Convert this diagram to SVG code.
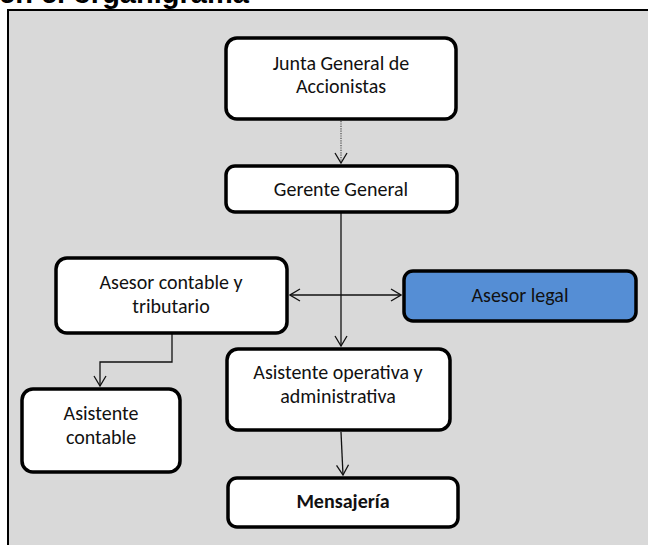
<svg xmlns="http://www.w3.org/2000/svg" width="648" height="545" viewBox="0 0 648 545">
  <style>
    .box { fill: #ffffff; stroke: #000000; stroke-width: 3.5; }
    .blue { fill: #558ed5; }
    .lbl { font-family: Carlito, Lato, "Liberation Sans", sans-serif; font-size: 20px; fill: #111111; text-anchor: middle; }
    .bold { font-weight: bold; }
    .conn { fill: none; stroke: #111111; stroke-width: 1.3; }
    .dot { stroke: #555555; stroke-dasharray: 1.2 1.2; }
    .title { font-family: "Liberation Sans", Arial, sans-serif; font-weight: bold; font-size: 29px; fill: #000000; }
  </style>
  <defs>
    <marker id="vhead" viewBox="0 0 12 14" refX="11" refY="7" markerWidth="12" markerHeight="14" markerUnits="userSpaceOnUse" orient="auto-start-reverse">
      <path d="M1 1 L11 7 L1 13" fill="none" stroke="#111111" stroke-width="1.3"/>
    </marker>
  </defs>

  <!-- page heading, clipped by the top edge -->
  <text class="title" x="-1" y="3">en el organigrama</text>

  <!-- chart panel -->
  <rect x="8" y="10" width="660" height="560" fill="#d9d9d9" stroke="#000000" stroke-width="2"/>

  <g id="connectors">
    <line class="conn dot" x1="341" y1="121" x2="341" y2="163" marker-end="url(#vhead)"/>
    <line class="conn" x1="341" y1="213" x2="341" y2="346" marker-end="url(#vhead)"/>
    <line class="conn" x1="290" y1="295" x2="401" y2="295" marker-start="url(#vhead)" marker-end="url(#vhead)"/>
    <polyline class="conn" points="172,334 172,362 100,362 100,386" marker-end="url(#vhead)"/>
    <line class="conn" x1="341" y1="432" x2="343" y2="475" marker-end="url(#vhead)"/>
  </g>

  <g id="junta">
    <rect class="box" x="226" y="38" width="230" height="81" rx="11"/>
    <text class="lbl" x="341" y="70">Junta General de</text>
    <text class="lbl" x="341" y="93">Accionistas</text>
  </g>

  <g id="gerente">
    <rect class="box" x="226" y="166" width="231" height="46" rx="9"/>
    <text class="lbl" x="341" y="196">Gerente General</text>
  </g>

  <g id="asesor-contable">
    <rect class="box" x="56" y="258" width="231" height="75" rx="11"/>
    <text class="lbl" x="171" y="289">Asesor contable y</text>
    <text class="lbl" x="171" y="313">tributario</text>
  </g>

  <g id="asesor-legal">
    <rect class="box blue" x="404" y="271" width="232" height="50" rx="9"/>
    <text class="lbl" x="520" y="302">Asesor legal</text>
  </g>

  <g id="asistente-contable">
    <rect class="box" x="22" y="389" width="158" height="83" rx="11"/>
    <text class="lbl" x="101" y="420">Asistente</text>
    <text class="lbl" x="101" y="444">contable</text>
  </g>

  <g id="asistente-operativa">
    <rect class="box" x="227" y="349" width="223" height="81" rx="11"/>
    <text class="lbl" x="338" y="379">Asistente operativa y</text>
    <text class="lbl" x="338" y="403">administrativa</text>
  </g>

  <g id="mensajeria">
    <rect class="box" x="228" y="478" width="230" height="49" rx="9"/>
    <text class="lbl bold" x="343" y="508">Mensajería</text>
  </g>
</svg>
